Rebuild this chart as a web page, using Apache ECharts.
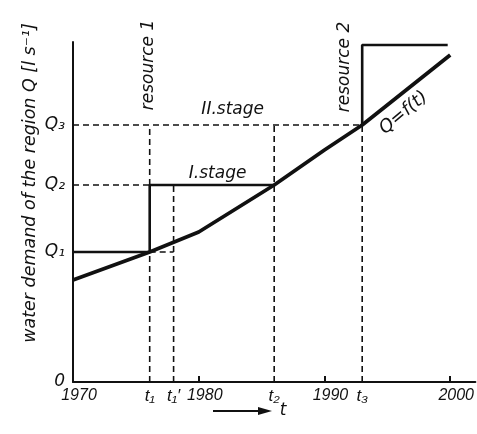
<!DOCTYPE html>
<html><head><meta charset="utf-8">
<script src="https://cdn.jsdelivr.net/npm/echarts@6/dist/echarts.min.js"></script>
<style>html,body{margin:0;padding:0;background:#fff}#c{width:477px;height:434px}</style>
</head><body><div id="c"></div>
<script>
// Curve Q = f(t)
const curveYears = [1970, 1976.1, 1980, 1986, 1990, 1993, 2000];
const curveValues = [10.2, 13, 15, 19.7, 23.2, 25.7, 32.7];
// characteristic times t1, t1', t2, t3
const markYears = [1976.1, 1978, 1986, 1993];
// demand levels Q1, Q2, Q3 and resource-2 capacity
const levelValues = [13, 19.7, 25.7, 33.7];
const capacityEndYear = 1999.8;
// tick labels
const xLabelValues = [1970, 1976.1, 1978, 1980, 1986, 1990, 1993, 2000];
const xLabelTexts = ['1970', 't₁', 't₁′', '1980', 't₂', '1990', 't₃', '2000'];
const xTickValues = [1980, 1990, 2000];
const yLabelValues = [0, 13, 19.7, 25.7];
const yLabelTexts = ['0', 'Q₁', 'Q₂', 'Q₃'];
// annotations
const noteTexts = ['resource 1', 'resource 2', 'II.stage', 'I.stage', 'Q=f(t)'];
const noteYears = [1976.0, 1991.6, 1982.7, 1981.5, 1996.3];
const noteValues = [31.7, 31.5, 27.2, 20.8, 26.9];
const noteRotate = [90, 90, 0, 0, 40];

const [t1, t1p, t2, t3] = markYears;
const [Q1, Q2, Q3, Qcap] = levelValues;
const FONT = 'DejaVu Sans';
const NARROW = '"Liberation Sans Narrow", "Liberation Sans"';
const INK = '#111';

const solid = (pts, w) => ({
  type: 'line', data: pts, symbol: 'none', silent: true,
  lineStyle: { color: INK, width: w, type: 'solid' }, z: 4
});
const dashed = (pts) => ({
  type: 'line', data: pts, symbol: 'none', silent: true,
  lineStyle: { color: INK, width: 1.6, type: [6, 4] }, z: 3
});

const series = [
  solid(curveYears.map((y, i) => [y, curveValues[i]]), 3.8),
  solid([[1970, Q1], [t1, Q1], [t1, Q2], [t2, Q2]], 2.6),
  solid([[t3, Q3], [t3, Qcap], [capacityEndYear, Qcap]], 2.6),
  dashed([[1970, Q2], [t1, Q2]]),
  dashed([[1970, Q3], [t3, Q3]]),
  dashed([[t1, 0], [t1, Q1]]),
  dashed([[t1, Q2], [t1, Q3]]),
  dashed([[t1p, 0], [t1p, Q2]]),
  dashed([[t1, Q1], [t1p, Q1]]),
  dashed([[t2, 0], [t2, Q3]]),
  dashed([[t3, 0], [t3, Q3]]),
  {
    type: 'scatter', symbolSize: 0, silent: true, z: 6,
    itemStyle: { opacity: 1 },
    data: noteTexts.map((t, i) => ({
      value: [noteYears[i], noteValues[i]],
      label: {
        show: true, position: 'inside', formatter: t, rotate: noteRotate[i],
        fontFamily: FONT, fontStyle: 'italic', fontSize: i === 4 ? 18 : 17, color: INK, opacity: 1
      }
    }))
  }
];

const chart = echarts.init(document.getElementById('c'), null, { renderer: 'canvas' });
chart.setOption({
  backgroundColor: '#fff',
  animation: false,
  grid: { left: 73, right: 1, top: 42, bottom: 52, containLabel: false },
  xAxis: {
    type: 'value', min: 1970, max: 2002,
    axisLine: { lineStyle: { color: INK, width: 2 } },
    splitLine: { show: false },
    axisTick: { show: true, inside: true, length: 6, customValues: xTickValues, lineStyle: { color: INK, width: 2 } },
    axisLabel: {
      customValues: xLabelValues,
      formatter: v => {
        const i = xLabelValues.findIndex(x => Math.abs(x - v) < 1e-6);
        if (i < 0) return '';
        return /^\d+$/.test(xLabelTexts[i]) ? '{y|' + xLabelTexts[i] + '}' : '{t|' + xLabelTexts[i] + '}';
      },
      rich: {
        y: { fontFamily: NARROW, fontStyle: 'italic', fontSize: 16, color: INK, padding: [0, 0, 0, 12] },
        t: { fontFamily: NARROW, fontStyle: 'italic', fontSize: 17, color: INK }
      },
      fontFamily: NARROW, fontStyle: 'italic', fontSize: 16, color: INK, margin: 6
    }
  },
  yAxis: {
    type: 'value', min: 0, max: 34,
    axisLine: { show: true, lineStyle: { color: INK, width: 2 } },
    splitLine: { show: false },
    axisTick: { show: false },
    axisLabel: {
      customValues: yLabelValues,
      formatter: v => { const i = yLabelValues.findIndex(x => Math.abs(x - v) < 1e-6); return i >= 0 ? yLabelTexts[i] : ''; },
      fontFamily: FONT, fontStyle: 'italic', fontSize: 17, color: INK, margin: 8
    }
  },
  graphic: [
    {
      type: 'text', x: 30, y: 183, rotation: Math.PI / 2,
      style: {
        text: 'water demand of the region Q [l s⁻¹]', fill: INK,
        font: 'italic 17.5px "DejaVu Sans"', align: 'center', verticalAlign: 'middle'
      }
    },
    { type: 'line', shape: { x1: 213, y1: 411, x2: 262, y2: 411 }, style: { stroke: INK, lineWidth: 2 } },
    { type: 'polygon', shape: { points: [[258, 407], [272, 411], [258, 415]] }, style: { fill: INK } },
    {
      type: 'text', x: 283, y: 411,
      style: { text: 't', fill: INK, font: 'italic 17px "DejaVu Sans"', align: 'center', verticalAlign: 'middle' }
    }
  ],
  series
});
</script>
</body></html>
